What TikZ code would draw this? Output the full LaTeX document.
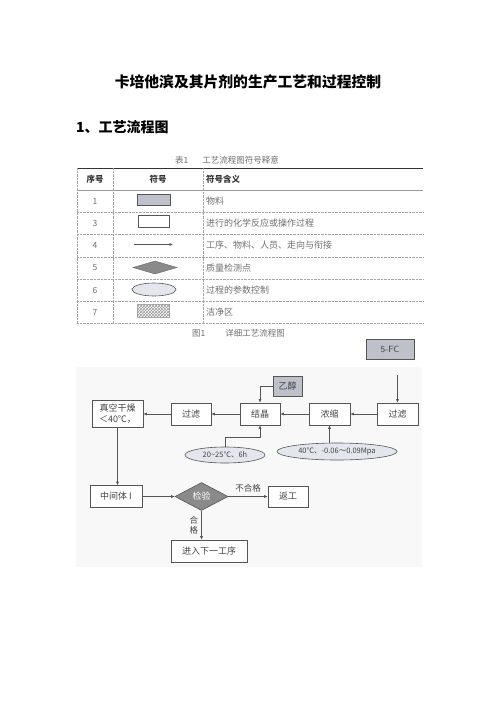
\documentclass[tikz,border=0pt]{standalone}
\usepackage{fontspec}
\setmainfont{Noto Sans CJK SC}
\usetikzlibrary{arrows.meta,shapes.geometric,patterns}
\definecolor{ln}{HTML}{555555}
\definecolor{tx}{HTML}{444444}
\definecolor{lt}{HTML}{707070}
\definecolor{mat}{HTML}{BEC1C9}
\definecolor{dia}{HTML}{8A8A8A}
\definecolor{ellc}{HTML}{E3E7ED}
\definecolor{bgc}{HTML}{F8F8F8}
\begin{document}
\begin{tikzpicture}[x=1pt,y=-1pt,
  every node/.style={inner sep=0pt, text=tx},
  box/.style={draw=ln, line width=0.6pt, rectangle, fill=white, minimum width=40pt, minimum height=22pt, font=\fontsize{9}{10}\selectfont, align=center},
  matbox/.style={box, fill=mat},
  ellbox/.style={draw=ln, line width=0.6pt, ellipse, fill=ellc, font=\fontsize{7.5}{9}\selectfont},
  arr/.style={draw=ln, line width=0.6pt, -{Latex[length=3.5pt,width=3pt]}},
  tgrid/.style={draw=gray!70, line width=0.4pt, densely dotted},
  desc/.style={anchor=west, text=lt, font=\fontsize{9}{10}\selectfont},
  numtxt/.style={text=lt, font=\fontsize{8.5}{10}\selectfont},
  hd/.style={font=\bfseries\fontsize{8.5}{10}\selectfont, text=black!80},
  captxt/.style={text=lt, font=\fontsize{8.5}{10}\selectfont},
  labtxt/.style={text=tx, font=\fontsize{8.5}{10}\selectfont, align=center}
]
\useasboundingbox[fill=white] (0,0) rectangle (496,702);

% titles
\node[font=\bfseries\fontsize{14.8}{16}\selectfont, text=black] (title) at (248,82) {卡培他滨及其片剂的生产工艺和过程控制};
\node[font=\bfseries\fontsize{14}{16}\selectfont, text=black, anchor=west] (sec) at (76,127) {1、工艺流程图};

% table caption
\node[captxt, anchor=west] (tcap) at (175,160) {表1\hspace{14pt}工艺流程图符号释意};

% table lines
\draw[draw=black!80, line width=0.7pt] (77,168) -- (423,168);
\draw[draw=gray!80, line width=0.5pt] (77,190) -- (423,190);
\foreach \yy in {212,234.5,257,279.5,301.5,323.5}
  \draw[tgrid] (77,\yy) -- (423,\yy);
\foreach \xx in {77,113,203}
  \draw[tgrid] (\xx,168) -- (\xx,323.5);

% header
\node[hd] (h1) at (95,179.5) {序号};
\node[hd] (h2) at (158,179.5) {符号};
\node[hd, anchor=west] (h3) at (206,179.5) {符号含义};

% rows
\node[numtxt] (n1) at (95,201) {1};
\node[numtxt] (n3) at (95,223) {3};
\node[numtxt] (n4) at (95,245.5) {4};
\node[numtxt] (n5) at (95,268) {5};
\node[numtxt] (n6) at (95,290.5) {6};
\node[numtxt] (n7) at (95,312.5) {7};

\node[desc] (d1) at (206,201) {物料};
\node[desc] (d3) at (206,223) {进行的化学反应或操作过程};
\node[desc] (d4) at (206,245.5) {工序、物料、人员、走向与衔接};
\node[desc] (d5) at (206,268) {质量检测点};
\node[desc] (d6) at (206,290.5) {过程的参数控制};
\node[desc] (d7) at (206,312.5) {洁净区};

% legend symbols
\node[draw=ln, line width=0.6pt, fill=mat, minimum width=33pt, minimum height=11pt] (s1) at (153.5,199.5) {};
\node[draw=ln, line width=0.6pt, fill=white, minimum width=31pt, minimum height=12pt] (s3) at (153.5,221.5) {};
\coordinate (s4a) at (134,244.5);
\coordinate (s4b) at (173,244.5);
\draw[arr] (s4a) -- (s4b);
\node[draw=dia!80!black, line width=0.5pt, fill=dia, diamond, aspect=3.3, minimum width=44pt, minimum height=13pt] (s5) at (155,267.5) {};
\node[draw=ln, line width=0.6pt, fill=ellc, ellipse, minimum width=44pt, minimum height=13pt] (s6) at (154,289.5) {};
\node[draw=gray!70, line width=0.5pt, pattern=crosshatch, pattern color=gray!80, minimum width=32pt, minimum height=13pt] (s7) at (153,310.5) {};

% figure caption
\node[captxt, anchor=west] (fcap) at (192,333) {图1\hspace{20pt}详细工艺流程图};

% flow chart background
\fill[bgc] (76,367) rectangle (422,567);

% flow chart
\node[matbox, minimum width=48pt, minimum height=20pt, font=\sffamily\fontsize{9}{10}\selectfont] (fc) at (390,349.5) {5-FC};
\node[box, minimum width=41pt] (f1) at (397.5,414) {过滤};
\node[box, minimum width=41pt] (nz) at (329.5,414) {浓缩};
\node[box] (jj) at (260,414) {结晶};
\node[box] (f2) at (191,414) {过滤};
\node[box, minimum width=51pt, minimum height=27pt, font=\fontsize{9}{11}\selectfont] (gz) at (117.5,414) {真空干燥\\＜40℃，};
\node[matbox, minimum width=29pt, minimum height=20pt] (yc) at (287.5,386) {乙醇};
\node[ellbox, minimum width=80pt, minimum height=16pt] (e1) at (225,455) {20\textasciitilde25℃、6h};
\node[ellbox, minimum width=120pt, minimum height=17pt] (e2) at (337,451.5) {40℃、-0.06～0.09Mpa};
\node[box, minimum width=52pt] (zj) at (116,496.5) {中间体 I};
\node[draw=ln, line width=0.6pt, fill=dia, diamond, aspect=1.9, minimum width=53pt, minimum height=28pt, font=\fontsize{9}{10}\selectfont, text=white] (jy) at (201.5,496.5) {检验};
\node[box, minimum width=40pt, minimum height=21pt] (fg) at (288,496.5) {返工};
\node[box, minimum width=76pt] (nx) at (209,551) {进入下一工序};

\coordinate (fcs) at (397.5,375);
\draw[arr] (fcs) -- (f1.north);
\draw[arr] (f1.west) -- (nz.east);
\draw[arr] (nz.west) -- (jj.east);
\draw[arr] (jj.west) -- (f2.east);
\draw[arr] (f2.west) -- (gz.east);
\draw[arr] (yc.west) -| (jj.north);
\draw[arr] (e1.north) -- ++(0,-9) -| (jj.south);
\draw[arr] (nz.south |- e2.north) -- (nz.south);
\draw[arr] (gz.south) -- (gz.south |- zj.north);
\draw[arr] (zj.east) -- (jy.west);
\draw[arr] (jy.east) -- node[labtxt, above=4pt] (bhg) {不合格} (fg.west);
\draw[arr] (jy.south) -- node[labtxt, left=3pt, font=\fontsize{8.5}{9.5}\selectfont] (hg) {合\\格} (jy.south |- nx.north);
\end{tikzpicture}
\end{document}
